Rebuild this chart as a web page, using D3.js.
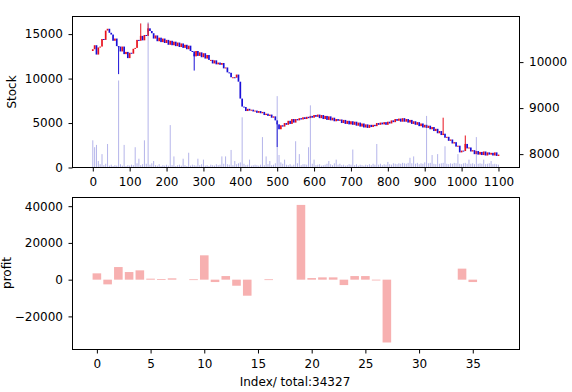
<!DOCTYPE html>
<html><head><meta charset="utf-8">
<script src="https://cdn.jsdelivr.net/npm/d3@7"></script>
<style>body{margin:0;background:#fff;overflow:hidden} text{font-family:"DejaVu Sans",sans-serif}</style>
</head><body><svg id="c" width="572" height="392"></svg>
<script>
// ---------- data ----------
const candleStep = 5;              // index spacing of the candles
const firstOpen = 13100;
const closes = [
13300,13750,12700,13500,13600,14450,14350,15400,15600,15150,
14950,14250,14500,13650,13600,13050,13600,12750,13000,12300,
12900,12800,13350,13450,14350,14250,14800,14300,14900,14800,
15650,15350,15100,14500,14850,14200,14600,14100,14500,14000,
14350,13800,14250,13750,14150,13650,14050,13550,13950,13450,
13800,13300,13700,13100,13050,12500,13100,12550,12950,12400,
12850,12250,12650,12100,12100,11700,12050,11600,11800,11550,
11750,11150,11250,10700,10650,10150,10150,10100,10450,9650,
7750,6850,6800,6350,6600,6400,6500,6300,6400,6150,
6350,6100,6250,5900,6050,5800,5950,5600,5750,5300,
4850,4300,4750,4600,5000,4800,5250,4900,5450,5050,
5450,5300,5550,5400,5650,5450,5700,5550,5800,5600,
5900,5700,5950,5550,5900,5450,5800,5350,5750,5300,
5600,5200,5450,5250,5400,5000,5350,4900,5250,4850,
5200,4800,5150,4700,5050,4600,4950,4500,4850,4450,
4800,4550,4800,4650,5000,4800,5050,4850,5100,4800,
5150,4950,5300,5100,5450,5250,5500,5150,5550,5150,
5450,5050,5350,4900,5200,4800,5100,4650,4950,4500,
4800,4450,4700,4300,4550,4100,4350,3850,4100,3650,
3800,3350,3450,3000,3150,2700,2850,2350,2450,1700,
1900,1850,2650,2150,2250,1800,1950,1500,1850,1450,
1750,1400,1800,1350,1700,1450,1650,1350,1700,1300,
1450];
const wickIdx = [70, 130, 150, 275, 500, 950, 1010];
const wickVal = [10500, 16200, 16200, 10900, 2300, 5600, 3600];
const volumes = [
8300,8150,8200,7850,7780,8000,7760,7790,8220,7750,
7770,7740,7760,7750,9600,7780,7750,8200,7740,7760,
7750,7770,7760,8150,7800,7900,7760,7780,8300,7790,
10870,7770,7800,7850,7760,7750,7780,7740,7760,7750,
7770,7750,8630,7760,7950,7740,7760,7770,7750,7900,
7760,7740,8030,7750,7770,7760,7750,7900,7760,7780,
7880,7750,7760,7740,7770,7760,7750,7780,7760,7770,
7950,7790,7950,7780,7770,8090,7760,7850,7780,7800,
7820,8800,7790,7760,7770,7880,7750,7760,7770,7760,
7750,7770,8370,7760,7950,7780,7850,7760,7770,7800,
9260,7980,7820,7790,7880,7770,7760,7780,7750,7770,
8280,7800,8000,7760,7780,7780,7770,8150,9060,7790,
7880,7760,7770,7780,7750,7760,7770,7790,7850,7780,
7760,7800,7880,7770,7790,7760,7770,7750,7760,7780,
7770,8100,7760,7780,7750,7770,7760,7750,7770,7760,
7780,7760,7790,7770,8220,7770,7790,7760,7780,7770,
7830,7780,7770,7800,7790,7780,7800,7790,7810,7800,
7790,7810,7920,7800,7950,7790,7810,7780,7800,7790,
7820,8830,7800,7810,7980,7790,7780,8000,7790,7800,
7810,8170,7790,7780,7800,7790,7810,7800,8000,7790,
7780,7800,7810,7790,7880,7790,7800,7780,8370,7790,
7800,7790,7880,7780,7790,7800,7850,7780,7790,7780,
7770];
const profits = [3440,-2560,6870,4150,5070,540,360,720,null,200,
13250,-1300,1960,-3300,-8730,null,200,null,null,40690,
870,1250,1250,-2950,1960,1960,-380,-34200,null,null,
null,null,null,null,6000,-1300,null,null];
const topXTicks = [0,100,200,300,400,500,600,700,800,900,1000,1100];
const stockTicks = [0,5000,10000,15000];
const rightTicks = [8000,9000,10000];
const profitTicks = [-20000,0,20000,40000];
const idxTicks = [0,5,10,15,20,25,30,35];
const totalLabel = "Index/ total:34327";

// ---------- layout ----------
const svg = d3.select("#c");
const L = 72.5, R = 519.5;
const T1 = 16.5, B1 = 167.5, T2 = 197.5, B2 = 349.5;
const fs = 12;
const UP = "#e8101c", DOWN = "#1a10d8";

const x1 = d3.scaleLinear().domain([-55, 1157]).range([L, R]);
const yS = d3.scaleLinear().domain([0, 16980]).range([B1, T1]);
const yR = d3.scaleLinear().domain([7709, 10991]).range([B1, T1]);
const x2 = d3.scaleLinear().domain([-2.27, 39.35]).range([L, R]);
const yP = d3.scaleLinear().domain([-38015, 44724]).range([B2, T2]);

svg.append("defs").append("clipPath").attr("id","cp1")
  .append("rect").attr("x",L).attr("y",T1).attr("width",R-L).attr("height",B1-T1);

// ---------- top panel ----------
const g1 = svg.append("g").attr("clip-path","url(#cp1)");
const candles = closes.map((c,k)=>({i:k*candleStep, o:k===0?firstOpen:closes[k-1], c}));
const bw = 1.7;
g1.selectAll("rect.cd").data(candles).join("rect").attr("class","cd")
  .attr("x", d=>x1(d.i)-bw/2)
  .attr("y", d=>yS(Math.max(d.o,d.c)))
  .attr("width", bw)
  .attr("height", d=>Math.max(1, Math.abs(yS(d.o)-yS(d.c))))
  .attr("fill", d=>d.c>=d.o ? UP : DOWN);
g1.selectAll("line.wk").data(wickIdx).join("line").attr("class","wk")
  .attr("x1", d=>x1(d)).attr("x2", d=>x1(d))
  .attr("y1", d=>{const c=candles[d/candleStep]; return yS((c.o+c.c)/2);})
  .attr("y2", (d,j)=>yS(wickVal[j]))
  .attr("stroke", d=>{const c=candles[d/candleStep]; return c.c>=c.o?UP:DOWN;})
  .attr("stroke-width", 1);
g1.selectAll("rect.vol").data(volumes).join("rect").attr("class","vol")
  .attr("x", (d,k)=>x1(k*candleStep)-0.5)
  .attr("y", d=>yR(d))
  .attr("width", 1)
  .attr("height", d=>B1-yR(d))
  .attr("fill", "#5a5ad0").attr("fill-opacity", 0.45);

// ---------- bottom panel ----------
const g2 = svg.append("g");
g2.selectAll("rect.pb").data(profits.map((v,i)=>({i,v})).filter(d=>d.v!==null)).join("rect").attr("class","pb")
  .attr("x", d=>x2(d.i-0.4))
  .attr("width", x2(0.8)-x2(0))
  .attr("y", d=>yP(Math.max(0,d.v)))
  .attr("height", d=>Math.max(0.8, Math.abs(yP(d.v)-yP(0))))
  .attr("fill", "#f7b0b0");

// ---------- axes ----------
function styleAxis(g){
  g.selectAll("text").attr("font-size", fs).attr("fill","#000").attr("font-family","DejaVu Sans");
  g.selectAll("line").attr("stroke","#000");
  g.select(".domain").remove();
}
const fmt = d3.format("d");
svg.append("g").attr("transform",`translate(0,${B1})`)
  .call(d3.axisBottom(x1).tickValues(topXTicks).tickFormat(fmt).tickSize(4).tickPadding(5.5)).call(styleAxis);
svg.append("g").attr("transform",`translate(${L},0)`)
  .call(d3.axisLeft(yS).tickValues(stockTicks).tickFormat(fmt).tickSize(4).tickPadding(5.5)).call(styleAxis);
svg.append("g").attr("transform",`translate(${R},0)`)
  .call(d3.axisRight(yR).tickValues(rightTicks).tickFormat(fmt).tickSize(4).tickPadding(5.5)).call(styleAxis);
svg.append("g").attr("transform",`translate(0,${B2})`)
  .call(d3.axisBottom(x2).tickValues(idxTicks).tickFormat(fmt).tickSize(4).tickPadding(5.5)).call(styleAxis);
svg.append("g").attr("transform",`translate(${L},0)`)
  .call(d3.axisLeft(yP).tickValues(profitTicks).tickFormat(fmt).tickSize(4).tickPadding(5.5)).call(styleAxis);

// frames
[[T1,B1],[T2,B2]].forEach(([t,b])=>{
  svg.append("rect").attr("x",L).attr("y",t).attr("width",R-L).attr("height",b-t)
    .attr("fill","none").attr("stroke","#000").attr("stroke-width",1);
});

// labels
svg.append("text").attr("transform",`translate(11.5,92) rotate(-90)`)
  .attr("text-anchor","middle").attr("dominant-baseline","central").attr("font-size",fs).text("Stock");
svg.append("text").attr("transform",`translate(6.5,273) rotate(-90)`)
  .attr("text-anchor","middle").attr("dominant-baseline","central").attr("font-size",fs).text("profit");
svg.append("text").attr("x",295).attr("y",386).attr("text-anchor","middle").attr("font-size",fs).text(totalLabel);
</script></body></html>
